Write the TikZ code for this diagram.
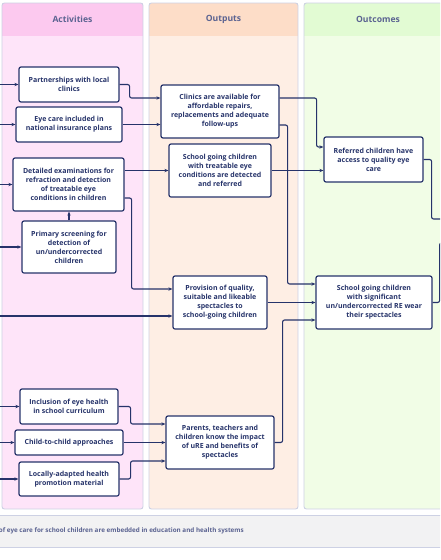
\documentclass[tikz,border=0pt]{standalone}
\usepackage{fontspec}
\setmainfont{Open Sans}
\usetikzlibrary{arrows.meta,calc}
\definecolor{navy}{HTML}{26336A}
\definecolor{hdrtxt}{HTML}{5B6391}
\definecolor{colborder}{HTML}{CDD1E4}
\definecolor{actH}{HTML}{FCC9EF}
\definecolor{actB}{HTML}{FEE4F9}
\definecolor{outH}{HTML}{FDDDC8}
\definecolor{outB}{HTML}{FEEEE4}
\definecolor{ocmH}{HTML}{E2FBD3}
\definecolor{ocmB}{HTML}{F1FDE6}
\definecolor{barfill}{HTML}{F2F2F3}
\tikzset{
  box/.style={draw=navy, line width=1.2pt, fill=white, rounded corners=2pt, inner sep=0pt, align=center,
    text=navy, font=\bfseries\fontsize{7}{9}\selectfont},
  conn/.style={draw=navy, line width=1.1pt, rounded corners=2pt, -{Stealth[length=4pt,width=3.4pt]}},
  colbody/.style={draw=colborder, line width=0.9pt, rounded corners=2.5pt},
  hdr/.style={text=hdrtxt, font=\bfseries\fontsize{8.6}{10}\selectfont},
}
\begin{document}
\begin{tikzpicture}[x=1pt,y=-1pt]
\useasboundingbox (0,0) rectangle (440,560);
\clip (0,0) rectangle (440,560);
\fill[white] (0,0) rectangle (440,560);
% columns
\fill[actB] (2,3) rectangle (143,509);
\fill[actH] (2,3) rectangle (143,36);
\draw[colbody] (2,3) rectangle (143,509);
\fill[outB] (149,3) rectangle (298,509);
\fill[outH] (149,3) rectangle (298,36);
\draw[colbody] (149,3) rectangle (298,509);
\fill[ocmB] (304,3) rectangle (460,509);
\fill[ocmH] (304,3) rectangle (460,36);
\draw[colbody] (304,3) rectangle (460,509);
\node[hdr] (hA) at (72.5,19.5) {Activities};
\node[hdr] (hB) at (223.5,19.5) {Outputs};
\node[hdr] (hC) at (378,19.5) {Outcomes};
% bottom bar
\draw[fill=barfill, draw=colborder, line width=0.9pt] (-10,515) rectangle (460,547);
\node[anchor=east, inner sep=0pt, text=hdrtxt, font=\bfseries\fontsize{6.3}{7.5}\selectfont] (bar) at (244,531)
  {of eye care for school children are embedded in education and health systems};
% activities
\node[box, minimum width=100pt, minimum height=35pt] (part) at (69,84.5) {Partnerships with local\\clinics};
\node[box, minimum width=106pt, minimum height=35pt] (ins) at (69,124.5) {Eye care included in\\national insurance plans};
\node[box, minimum width=111pt, minimum height=53pt] (det) at (68.5,184.5) {Detailed examinations for\\refraction and detection\\of treatable eye\\conditions in children};
\node[box, minimum width=94pt, minimum height=52pt] (prim) at (69,247) {Primary screening for\\detection of\\un/undercorrected\\children};
\node[box, minimum width=98pt, minimum height=35pt] (incl) at (69,406.5) {Inclusion of eye health\\in school curriculum};
\node[box, minimum width=108pt, minimum height=25pt] (child) at (69,442.5) {Child-to-child approaches};
\node[box, minimum width=100pt, minimum height=34pt] (loc) at (69,479) {Locally-adapted health\\promotion material};
% outputs
\node[box, minimum width=118pt, minimum height=53pt] (clin) at (220,111.5) {Clinics are available for\\affordable repairs,\\replacements and adequate\\follow-ups};
\node[box, minimum width=102pt, minimum height=53pt] (sch) at (220,170.5) {School going children\\with treatable eye\\conditions are detected\\and referred};
\node[box, minimum width=94pt, minimum height=53pt] (prov) at (220,302.5) {Provision of quality,\\suitable and likeable\\spectacles to\\school-going children};
\node[box, minimum width=108pt, minimum height=53pt] (par) at (220,442.5) {Parents, teachers and\\children know the impact\\of uRE and benefits of\\spectacles};
% outcomes
\node[box, minimum width=99pt, minimum height=45pt] (ref) at (373.5,159.5) {Referred children have\\access to quality eye\\care};
\node[box, minimum width=116pt, minimum height=53pt] (sig) at (374,302.5) {School going children\\with significant\\un/undercorrected RE wear\\their spectacles};
% free ends
\coordinate (inA) at (-5,84.5);
\coordinate (inB) at (-5,124.5);
\coordinate (inC) at (-5,184.5);
\coordinate (inD) at (-5,247);
\coordinate (inE) at (-5,316);
\coordinate (inF) at (-5,406.5);
\coordinate (inG) at (-5,442.5);
\coordinate (inH) at (-5,479);
\coordinate (outA) at (460,219);
\coordinate (outB) at (460,243);
% incoming
\draw[conn] (inA) -- (part.west);
\draw[conn] (inB) -- (ins.west);
\draw[conn] (inC) -- (det.west);
\draw[conn] (inD) -- (prim.west);
\draw[conn] (inE) -- ([yshift=-13.5pt]prov.west);
\draw[conn] (inF) -- (incl.west);
\draw[conn] (inG) -- (child.west);
\draw[conn] (inH) -- (loc.west);
% activities -> outputs
\draw[conn] (prim.north) -- (prim.north |- det.south);
\draw[conn] (part.east) -- ++(10,0) |- ([yshift=13.5pt]clin.west);
\draw[conn] (ins.east) -- (ins.east -| clin.west);
\draw[conn] (det.east |- sch.west) -- (sch.west);
\draw[conn] ([yshift=-13.5pt]det.east) -- ++(7,0) |- ([yshift=13.5pt]prov.west);
\draw[conn] (incl.east) -- ++(12,0) |- ([yshift=18.5pt]par.west);
\draw[conn] (child.east) -- (par.west);
\draw[conn] (loc.east) -- ++(11,0) |- ([yshift=-18.5pt]par.west);
% outputs -> outcomes
\draw[conn] ([yshift=13.5pt]clin.east) -- ++(37,0) |- ([yshift=12.5pt]ref.west);
\draw[conn] ([yshift=-13.5pt]clin.east) -- ++(8,0) |- ([yshift=18.5pt]sig.west);
\draw[conn] (sch.east) -- (sch.east -| ref.west);
\draw[conn] (prov.east) -- (sig.west);
\draw[conn] (par.east) -- ++(8,0) |- ([yshift=-17.5pt]sig.west);
% outcomes -> beyond
\draw[conn] (ref.east) -- ++(8,0) |- (outA);
\draw[conn] (sig.east) -- ++(7,0) |- (outB);
\end{tikzpicture}
\end{document}
